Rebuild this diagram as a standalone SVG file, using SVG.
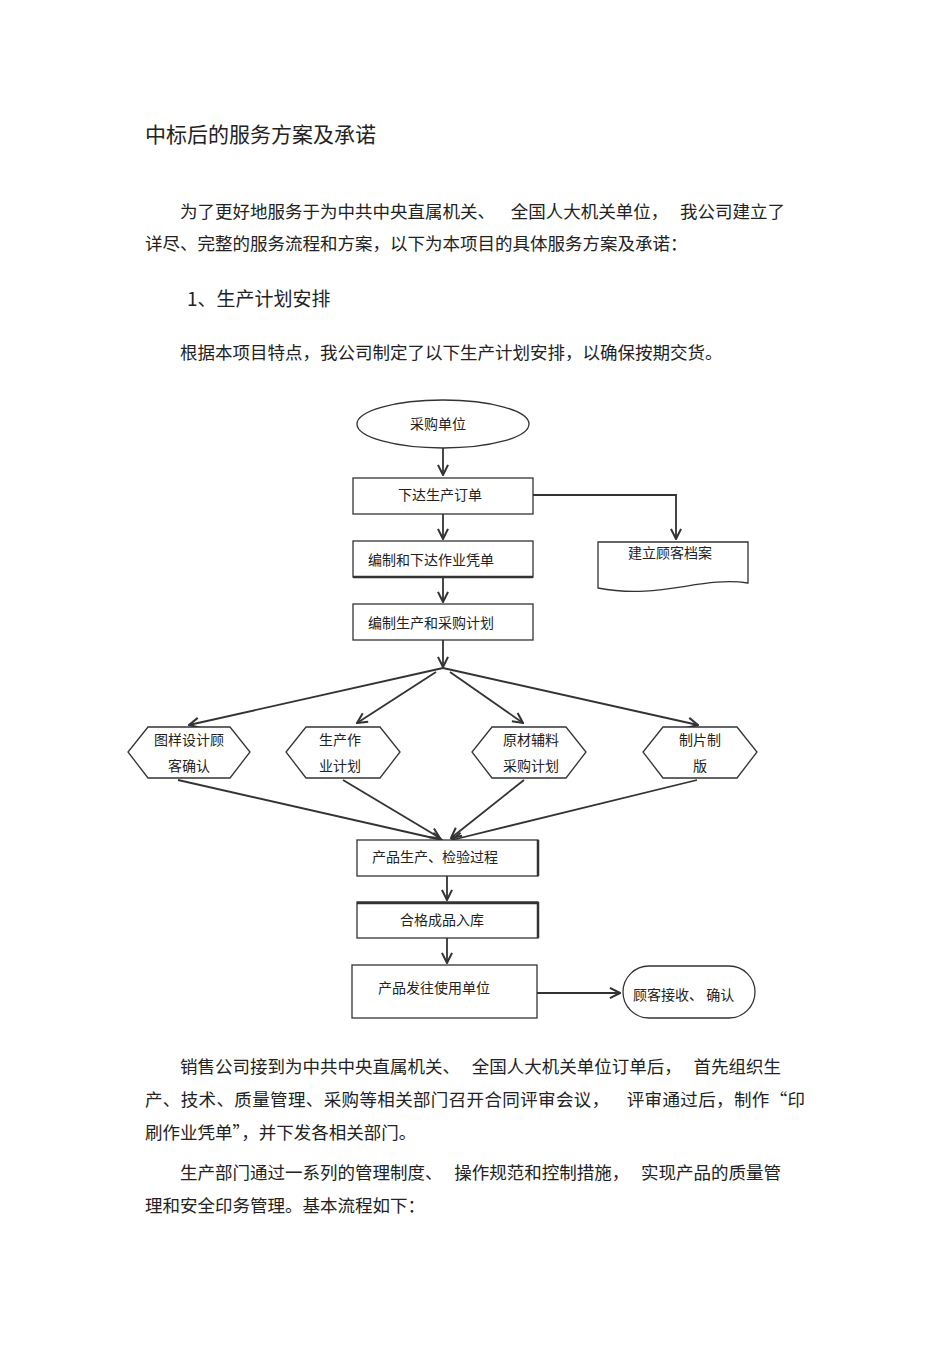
<svg xmlns="http://www.w3.org/2000/svg" width="950" height="1345" viewBox="0 0 950 1345">
<style>
text{font-family:"Noto Sans CJK SC","Liberation Sans",sans-serif;fill:#222}
.b{font-size:17.5px}
.d{font-size:14px}
.s{fill:#fff;stroke:#333;stroke-width:1.3}
.c{fill:none;stroke:#333;stroke-width:1.8}
</style>
<defs><marker id="a" viewBox="0 0 10 10" refX="9" refY="5" markerWidth="7" markerHeight="7" orient="auto"><path d="M1,1 L9,5 L1,9" fill="none" stroke="#333" stroke-width="1.6"/></marker></defs>
<rect width="950" height="1345" fill="#fff"/>
<text x="145" y="142" style="font-size:21px">中标后的服务方案及承诺</text>
<text class="b" x="180" y="218" xml:space="preserve">为了更好地服务于为中共中央直属机关、    全国人大机关单位，   我公司建立了</text>
<text class="b" x="145" y="250">详尽、完整的服务流程和方案，以下为本项目的具体服务方案及承诺：</text>
<text x="187" y="306" style="font-size:19px">1、生产计划安排</text>
<text class="b" x="180" y="359">根据本项目特点，我公司制定了以下生产计划安排，以确保按期交货。</text>
<text class="b" x="180" y="1073" xml:space="preserve">销售公司接到为中共中央直属机关、   全国人大机关单位订单后，   首先组织生</text>
<text class="b" x="145" y="1106" xml:space="preserve" textLength="660" lengthAdjust="spacing">产、技术、质量管理、采购等相关部门召开合同评审会议，    评审通过后，制作“印</text>
<text class="b" x="145" y="1139">刷作业凭单”，并下发各相关部门。</text>
<text class="b" x="180" y="1179" xml:space="preserve">生产部门通过一系列的管理制度、   操作规范和控制措施，   实现产品的质量管</text>
<text class="b" x="145" y="1212">理和安全印务管理。基本流程如下：</text>
<g id="connectors">
<path class="c" d="M443,448 V475" marker-end="url(#a)"/>
<path class="c" d="M533,495 H676 V539" marker-end="url(#a)"/>
<path class="c" d="M443,514 V539" marker-end="url(#a)"/>
<path class="c" d="M443,577 V602" marker-end="url(#a)"/>
<path class="c" d="M443,640 V667" marker-end="url(#a)"/>
<path class="c" d="M443,668 L189,725" marker-end="url(#a)"/>
<path class="c" d="M436,672 L357,723" marker-end="url(#a)"/>
<path class="c" d="M450,672 L523,723" marker-end="url(#a)"/>
<path class="c" d="M443,668 L698,725" marker-end="url(#a)"/>
<path class="c" d="M178,780 L442,840" marker-end="url(#a)"/>
<path class="c" d="M343,780 L440,838" marker-end="url(#a)"/>
<path class="c" d="M524,780 L451,838" marker-end="url(#a)"/>
<path class="c" d="M697,780 L452,840" marker-end="url(#a)"/>
<path class="c" d="M447,876 V900" marker-end="url(#a)"/>
<path class="c" d="M447,938 V963" marker-end="url(#a)"/>
<path class="c" d="M537,993 H620" marker-end="url(#a)"/>
</g>
<g id="n1"><ellipse class="s" cx="443" cy="424" rx="86" ry="24"/><text class="d" x="438" y="429" text-anchor="middle">采购单位</text></g>
<g id="n2"><rect class="s" x="353" y="478" width="180" height="36"/><text class="d" x="440" y="500" text-anchor="middle">下达生产订单</text></g>
<g id="n3"><path class="s" d="M598,542 H748 V583 C700,576 660,600 598,588 Z"/><text class="d" x="670" y="558" text-anchor="middle">建立顾客档案</text></g>
<g id="n4"><rect class="s" x="353" y="541" width="180" height="36"/><line x1="353" y1="577" x2="533" y2="577" stroke="#333" stroke-width="2.5"/><text class="d" x="368" y="565">编制和下达作业凭单</text></g>
<g id="n5"><rect class="s" x="353" y="604" width="180" height="36"/><text class="d" x="368" y="628">编制生产和采购计划</text></g>
<g id="n6"><path class="s" d="M148,727 H230 L250,752 L230,778 H148 L128,752 Z"/><text class="d" x="189" y="745" text-anchor="middle">图样设计顾</text><text class="d" x="189" y="771" text-anchor="middle">客确认</text></g>
<g id="n7"><path class="s" d="M306,727 H380 L400,752 L380,778 H306 L286,752 Z"/><text class="d" x="340" y="745" text-anchor="middle">生产作</text><text class="d" x="340" y="771" text-anchor="middle">业计划</text></g>
<g id="n8"><path class="s" d="M492,727 H566 L586,752 L566,778 H492 L472,752 Z"/><text class="d" x="531" y="745" text-anchor="middle">原材辅料</text><text class="d" x="531" y="771" text-anchor="middle">采购计划</text></g>
<g id="n9"><path class="s" d="M663,727 H737 L757,752 L737,778 H663 L643,752 Z"/><text class="d" x="700" y="745" text-anchor="middle">制片制</text><text class="d" x="700" y="771" text-anchor="middle">版</text></g>
<g id="n10"><rect class="s" x="357" y="840" width="181" height="36"/><line x1="538" y1="840" x2="538" y2="876" stroke="#333" stroke-width="2.5"/><text class="d" x="372" y="862">产品生产、检验过程</text></g>
<g id="n11"><rect class="s" x="357" y="902" width="181" height="36"/><line x1="357" y1="903" x2="538" y2="903" stroke="#333" stroke-width="2.5"/><line x1="538" y1="902" x2="538" y2="938" stroke="#333" stroke-width="2.5"/><text class="d" x="442" y="925" text-anchor="middle">合格成品入库</text></g>
<g id="n12"><rect class="s" x="352" y="965" width="185" height="53"/><text class="d" x="378" y="993">产品发往使用单位</text></g>
<g id="n13"><rect class="s" x="623" y="966" width="132" height="52" rx="26"/><text class="d" x="633" y="1000" xml:space="preserve">顾客接收、 确认</text></g>
</svg>
